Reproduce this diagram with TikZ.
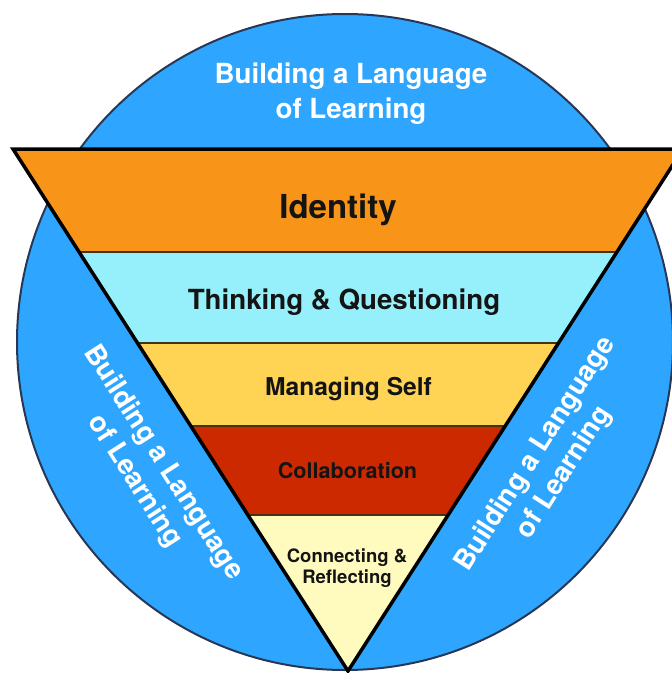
\documentclass[tikz,border=0pt]{standalone}
\usepackage{fontspec}
\setmainfont{TeX Gyre Heros}
\definecolor{ringblue}{RGB}{46,166,255}
\definecolor{ringline}{RGB}{40,55,85}
\definecolor{layorange}{RGB}{248,148,24}
\definecolor{laycyan}{RGB}{150,240,252}
\definecolor{layyellow}{RGB}{255,212,84}
\definecolor{layred}{RGB}{204,41,0}
\definecolor{laypale}{RGB}{255,250,190}
\definecolor{txtdark}{RGB}{20,20,20}
\definecolor{bandline}{RGB}{70,50,20}
\begin{document}
\begin{tikzpicture}[x=1pt,y=1pt,
  ringtext/.style={text=white,font=\bfseries\fontsize{27.7}{34}\selectfont,inner sep=0pt,anchor=base},
  laytext/.style={text=txtdark,inner sep=0pt,anchor=base}]
\useasboundingbox (0,0) rectangle (672,-673);
\clip (0,0) rectangle (672,-673);
% circle
\fill[ringblue] (345,-342) circle (328);
\draw[ringline,line width=2] (345,-342) circle (328);
% triangle bands
\begin{scope}
\clip (13,-149) -- (683,-149) -- (348,-671) -- cycle;
\fill[layorange] (0,-140) rectangle (700,-252);
\fill[laycyan] (0,-252) rectangle (700,-343);
\fill[layyellow] (0,-343) rectangle (700,-426);
\fill[layred] (0,-426) rectangle (700,-515);
\fill[laypale] (0,-515) rectangle (700,-680);
\draw[bandline,line width=1.3] (0,-252) -- (700,-252);
\draw[bandline,line width=1.3] (0,-343) -- (700,-343);
\draw[bandline,line width=1.3] (0,-426) -- (700,-426);
\draw[bandline,line width=1.3] (0,-515) -- (700,-515);
\end{scope}
\draw[black,line width=3.5,line join=miter] (13,-149) -- (683,-149) -- (348,-671) -- cycle;
% ring texts
\node[ringtext] (top1) at (351,-83) {Building a Language};
\node[ringtext] (top2) at (351,-118) {of Learning};
\node[ringtext,rotate=-57.4] (left1) at (157,-467) {Building a Language};
\node[ringtext,rotate=-57.4] (left2) at (128.5,-485.5) {of Learning};
\node[ringtext,rotate=57.4] (right1) at (542,-458) {Building a Language};
\node[ringtext,rotate=57.4] (right2) at (570.5,-476.5) {of Learning};
% layer texts
\node[laytext,font=\bfseries\fontsize{33}{38}\selectfont] (identity) at (338,-218) {Identity};
\node[laytext,font=\bfseries\fontsize{27.7}{30}\selectfont] (thinking) at (344,-309) {Thinking \& Questioning};
\node[laytext,font=\bfseries\fontsize{24.6}{27}\selectfont] (managing) at (348.5,-395) {Managing Self};
\node[laytext,font=\bfseries\fontsize{21.6}{24}\selectfont] (collab) at (347.5,-478) {Collaboration};
\node[laytext,font=\bfseries\fontsize{18.5}{21}\selectfont] (connect1) at (347,-562) {Connecting \&};
\node[laytext,font=\bfseries\fontsize{18.5}{21}\selectfont] (connect2) at (347,-583) {Reflecting};
\end{tikzpicture}
\end{document}
